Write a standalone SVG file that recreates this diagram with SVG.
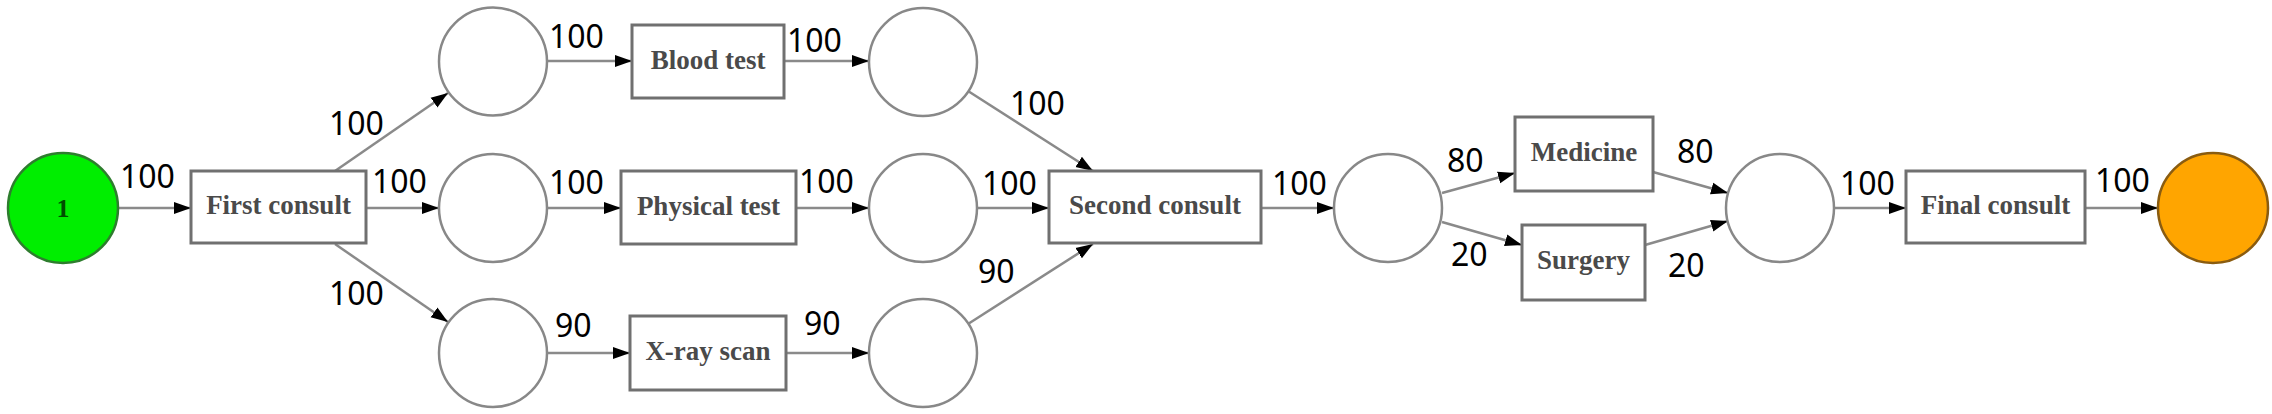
<svg xmlns="http://www.w3.org/2000/svg" width="2272" height="414" viewBox="0 0 2272 414">
<style>
.pl{fill:#fff;stroke:#888;stroke-width:2.5}
.tr{fill:#fff;stroke:#707070;stroke-width:3}
.tl{font-family:"Liberation Serif","Times New Roman",serif;font-size:27px;font-weight:bold;fill:#4a4a4a;text-anchor:middle}
.ed{stroke:#8a8a8a;stroke-width:2.5;fill:none;marker-end:url(#ah)}
.lb{font-family:"Noto Sans","Open Sans",sans-serif;font-size:32px;fill:#000}
</style>
<defs>
<marker id="ah" markerUnits="userSpaceOnUse" markerWidth="18" markerHeight="14" refX="17" refY="7" orient="auto">
<path d="M0,1 L17,7 L0,13 z" fill="#000"/>
</marker>
</defs>
<rect width="2272" height="414" fill="#fff"/>
<g id="connectors">
<line class="ed" x1="119" y1="208" x2="191" y2="208"/>
<line class="ed" x1="335" y1="171" x2="448" y2="93"/>
<line class="ed" x1="366" y1="208" x2="439" y2="208"/>
<line class="ed" x1="335" y1="244" x2="448" y2="322"/>
<line class="ed" x1="547" y1="61" x2="632" y2="61"/>
<line class="ed" x1="547" y1="208" x2="621" y2="208"/>
<line class="ed" x1="547" y1="353" x2="630" y2="353"/>
<line class="ed" x1="784" y1="61" x2="869" y2="61"/>
<line class="ed" x1="796" y1="208" x2="869" y2="208"/>
<line class="ed" x1="786" y1="353" x2="869" y2="353"/>
<line class="ed" x1="968" y1="91" x2="1093" y2="171"/>
<line class="ed" x1="977" y1="208" x2="1049" y2="208"/>
<line class="ed" x1="968" y1="324" x2="1093" y2="244"/>
<line class="ed" x1="1261" y1="208" x2="1334" y2="208"/>
<line class="ed" x1="1442" y1="193" x2="1515" y2="173"/>
<line class="ed" x1="1442" y1="222" x2="1522" y2="245"/>
<line class="ed" x1="1653" y1="172" x2="1728" y2="193"/>
<line class="ed" x1="1645" y1="245" x2="1728" y2="221"/>
<line class="ed" x1="1834" y1="208" x2="1906" y2="208"/>
<line class="ed" x1="2085" y1="208" x2="2158" y2="208"/>
<text class="lb" x="120" y="188">100</text>
<text class="lb" x="329" y="135">100</text>
<text class="lb" x="372" y="193">100</text>
<text class="lb" x="329" y="305">100</text>
<text class="lb" x="549" y="48">100</text>
<text class="lb" x="549" y="194">100</text>
<text class="lb" x="555" y="337">90</text>
<text class="lb" x="787" y="52">100</text>
<text class="lb" x="799" y="193">100</text>
<text class="lb" x="804" y="335">90</text>
<text class="lb" x="1010" y="115">100</text>
<text class="lb" x="982" y="195">100</text>
<text class="lb" x="978" y="283">90</text>
<text class="lb" x="1272" y="195">100</text>
<text class="lb" x="1447" y="172">80</text>
<text class="lb" x="1451" y="266">20</text>
<text class="lb" x="1677" y="163">80</text>
<text class="lb" x="1668" y="277">20</text>
<text class="lb" x="1840" y="195">100</text>
<text class="lb" x="2095" y="192">100</text>
</g>
<g id="start"><circle cx="63" cy="208" r="55" fill="#00ee00" stroke="#2e7d2e" stroke-width="2.5"/><text x="63" y="217" font-family="Liberation Serif,serif" font-size="26" font-weight="bold" fill="#004d00" text-anchor="middle">1</text></g>
<g id="first_consult"><rect class="tr" x="191" y="171" width="175" height="72"/><text class="tl" x="278.5" y="214">First consult</text></g>
<g id="p1"><circle class="pl" cx="493" cy="61.5" r="54"/></g>
<g id="p2"><circle class="pl" cx="493" cy="208" r="54"/></g>
<g id="p3"><circle class="pl" cx="493" cy="353" r="54"/></g>
<g id="blood_test"><rect class="tr" x="632" y="25" width="152" height="73"/><text class="tl" x="708" y="69">Blood test</text></g>
<g id="physical_test"><rect class="tr" x="621" y="171" width="175" height="73"/><text class="tl" x="708.5" y="215">Physical test</text></g>
<g id="xray_scan"><rect class="tr" x="630" y="316" width="156" height="74"/><text class="tl" x="708" y="360">X-ray scan</text></g>
<g id="p4"><circle class="pl" cx="923" cy="62" r="54"/></g>
<g id="p5"><circle class="pl" cx="923" cy="208" r="54"/></g>
<g id="p6"><circle class="pl" cx="923" cy="353" r="54"/></g>
<g id="second_consult"><rect class="tr" x="1049" y="171" width="212" height="72"/><text class="tl" x="1155" y="214">Second consult</text></g>
<g id="p7"><circle class="pl" cx="1388" cy="208" r="54"/></g>
<g id="medicine"><rect class="tr" x="1515" y="117" width="138" height="74"/><text class="tl" x="1584" y="161">Medicine</text></g>
<g id="surgery"><rect class="tr" x="1522" y="225" width="123" height="75"/><text class="tl" x="1583.5" y="269">Surgery</text></g>
<g id="p8"><circle class="pl" cx="1780" cy="208" r="54"/></g>
<g id="final_consult"><rect class="tr" x="1906" y="171" width="179" height="72"/><text class="tl" x="1995.5" y="214">Final consult</text></g>
<g id="end"><circle cx="2213" cy="208" r="55" fill="#ffa500" stroke="#8a5c10" stroke-width="2.5"/></g>
</svg>
